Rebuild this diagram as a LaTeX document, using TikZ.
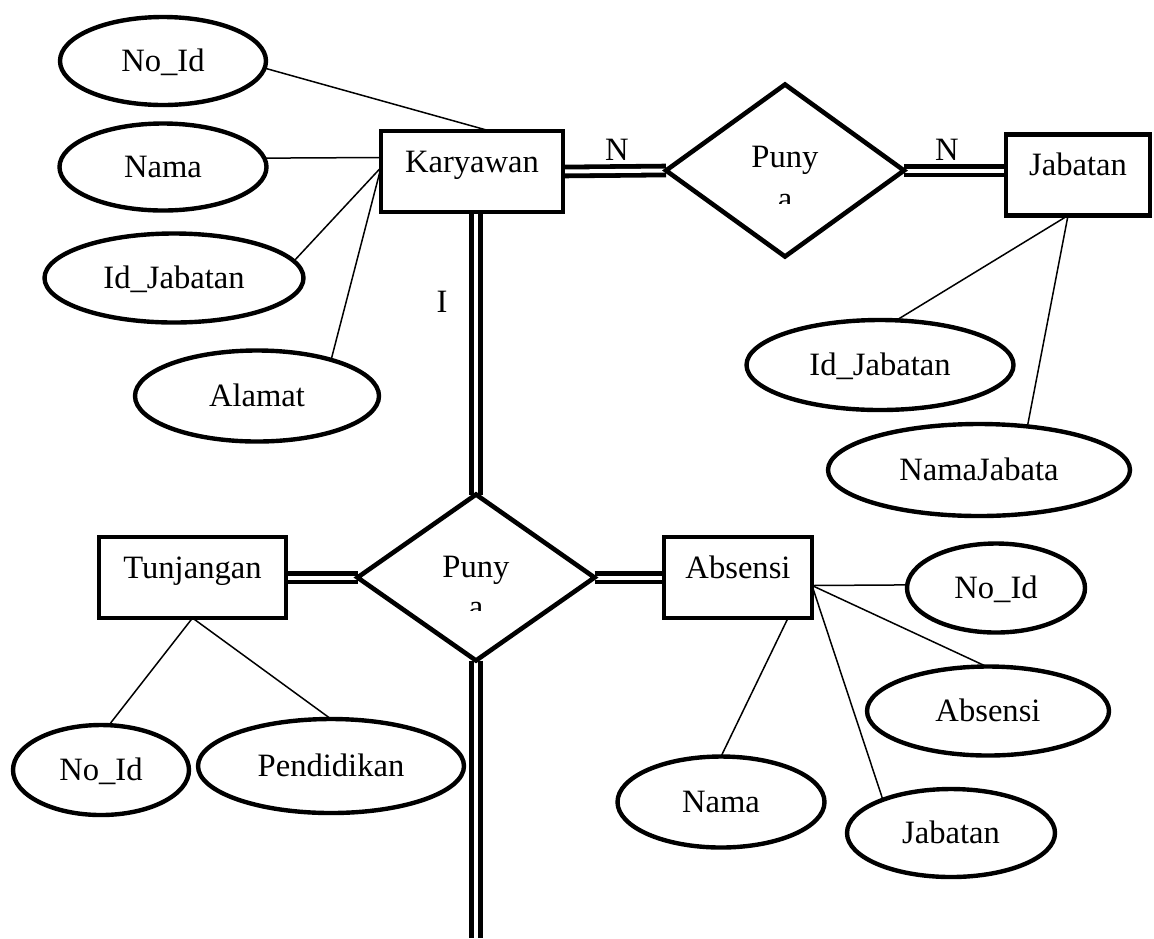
\documentclass[tikz,border=0pt]{standalone}
\usepackage{fontspec}
\setmainfont{Liberation Serif}
\usetikzlibrary{shapes.geometric,backgrounds}
\begin{document}
\begin{tikzpicture}[x=0.5pt,y=-0.5pt,
  every node/.style={font=\fontsize{16.3pt}{19pt}\selectfont, inner sep=0pt, outer sep=0pt},
  entity/.style={draw, rectangle, line width=2.1pt, minimum height=40.5pt, text height=10.8pt, text depth=10pt},
  attr/.style={draw, ellipse, line width=2.2pt, text height=10.8pt, text depth=0pt},
  rel/.style={draw, diamond, line width=2.3pt},
  card/.style={text height=10.8pt, text depth=0pt},
  link/.style={line width=0.75pt},
  dbl/.style={double, double distance=2pt, line width=2.4pt},
]
\useasboundingbox (0,0) rectangle (1154,938);

% entities
\node[entity, minimum width=91pt]   (kar) at (472,171.5)   {Karyawan};
\node[entity, minimum width=72pt]   (jab) at (1078,175)    {Jabatan};
\node[entity, minimum width=93.5pt] (tun) at (192.5,577.5) {Tunjangan};
\node[entity, minimum width=74pt]   (abs) at (738,577.5)   {Absensi};

% relationships
\node[rel, minimum width=119pt, minimum height=86pt]   (punya1) at (785,170.5) {};
\node[rel, minimum width=118.5pt, minimum height=83pt] (punya2) at (476,577.5) {};

\node[anchor=base] (punya1top) at (785,167) {Puny};
\begin{scope}
  \clip (740,150) rectangle (830,203);
  \node[anchor=base] (punya1bot) at (785,209) {a};
\end{scope}
\node[anchor=base] (punya2top) at (476,577) {Puny};
\begin{scope}
  \clip (430,560) rectangle (520,610);
  \node[anchor=base] (punya2bot) at (476,617) {a};
\end{scope}

% attributes of Karyawan
\node[attr, minimum width=103pt,   minimum height=44pt]   (kNoId)   at (163,61)  {No\_Id};
\node[attr, minimum width=103.5pt, minimum height=43.5pt] (kNama)   at (163,167) {Nama};
\node[attr, minimum width=129.5pt, minimum height=44.5pt] (kIdJab)  at (174,278) {Id\_Jabatan};
\node[attr, minimum width=122pt,   minimum height=45.5pt] (kAlamat) at (257,396) {Alamat};

% attributes of Jabatan
\node[attr, minimum width=133.5pt, minimum height=45pt] (jIdJab) at (880,365) {Id\_Jabatan};
\node[attr, minimum width=151pt,   minimum height=46pt] (jNama)  at (979,470) {NamaJabata};

% attributes of Tunjangan
\node[attr, minimum width=88pt,  minimum height=45pt] (tNoId) at (101,770) {No\_Id};
\node[attr, minimum width=133pt, minimum height=47pt] (tPend) at (331,766) {Pendidikan};

% attributes of Absensi
\node[attr, minimum width=89pt,    minimum height=44.5pt] (aNoId) at (996,588) {No\_Id};
\node[attr, minimum width=121pt,   minimum height=44.5pt] (aAbs)  at (988,711) {Absensi};
\node[attr, minimum width=103.5pt, minimum height=45.5pt] (aNama) at (721,802) {Nama};
\node[attr, minimum width=104pt,   minimum height=44pt]   (aJab)  at (951,833) {Jabatan};

% cardinalities
\node[card] (cardN1) at (617,150) {N};
\node[card] (cardN2) at (947,150) {N};
\node[card] (cardI)  at (442,302) {I};

\coordinate (tail) at (476,938);

\begin{scope}[on background layer]
  % attribute links
  \draw[link] (kNoId.-4)   -- ([xshift=9pt]kar.north);
  \draw[link] (kNama.5)    -- ([yshift=7pt]kar.west);
  \draw[link] (kIdJab.8)   -- ([yshift=2pt]kar.west);
  \draw[link] (kAlamat.26) -- ([yshift=2pt]kar.west);

  \draw[link] (jIdJab.70) -- ([xshift=-5pt]jab.south);
  \draw[link] (jNama.42)  -- ([xshift=-5pt]jab.south);

  \draw[link] (tNoId.80)   -- (tun.south);
  \draw[link] (tPend.north) -- (tun.south);

  \draw[link] (aNoId.178)   -- ([yshift=-4pt]abs.east);
  \draw[link] (aAbs.92)     -- ([yshift=-4pt]abs.east);
  \draw[link] (aJab.154)    -- ([yshift=-4pt]abs.east);
  \draw[link] (aNama.north) -- ([xshift=25pt]abs.south);

  % relationship links
  \draw[dbl] (kar.east) -- (punya1.west);
  \draw[dbl] (punya1.east) -- (punya1.east -| jab.west);
  \draw[dbl] (punya2.north) -- (punya2.north |- kar.south);
  \draw[dbl] (punya2.west) -- (punya2.west -| tun.east);
  \draw[dbl] (punya2.east) -- (punya2.east -| abs.west);
  \draw[dbl] (punya2.south) -- (tail);
\end{scope}
\end{tikzpicture}
\end{document}
